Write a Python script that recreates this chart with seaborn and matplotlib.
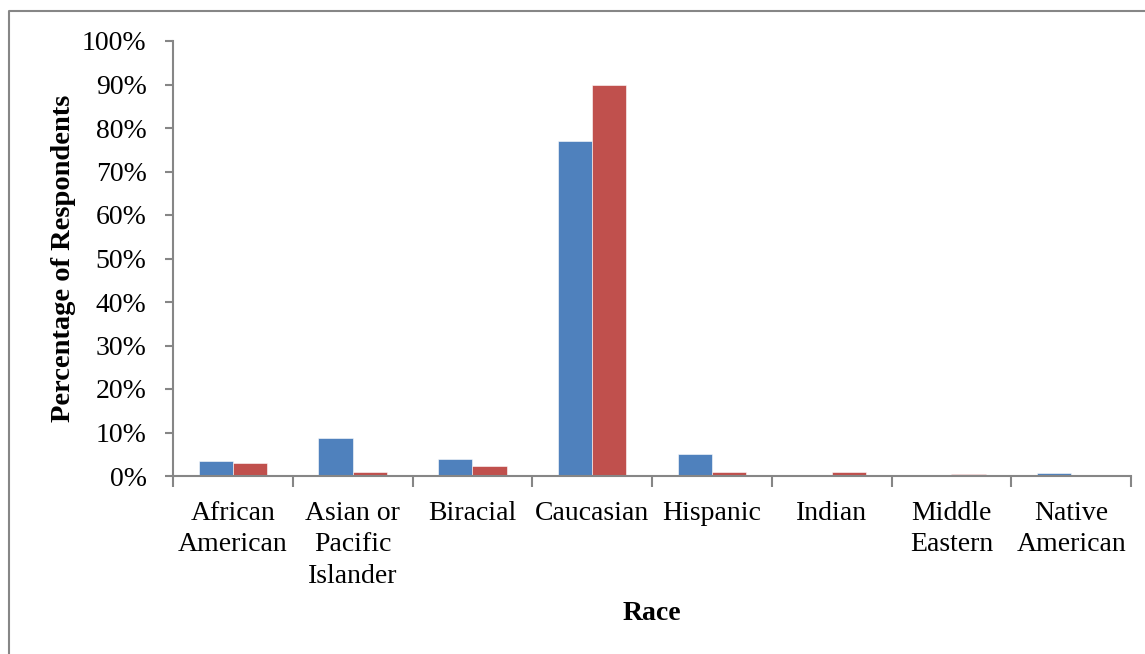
import matplotlib
matplotlib.use("Agg")
import matplotlib.pyplot as plt
from matplotlib.lines import Line2D
from matplotlib.ticker import FixedLocator, PercentFormatter
import seaborn as sns
import pandas as pd

# Race categories shown on the x axis
categories = ["African\nAmerican", "Asian or\nPacific\nIslander", "Biracial", "Caucasian",
              "Hispanic", "Indian", "Middle\nEastern", "Native\nAmerican"]
# Share of respondents in each group (fractions)
series_1 = [0.035, 0.088, 0.040, 0.769, 0.051, 0.0, 0.0, 0.008]
series_2 = [0.030, 0.010, 0.024, 0.899, 0.010, 0.010, 0.005, 0.0]
series_names = ["Series 1", "Series 2"]
colors = ["#4F81BD", "#C0504D"]

df = pd.DataFrame({
    "Race": categories * 2,
    "Share": series_1 + series_2,
    "Series": [series_names[0]] * len(categories) + [series_names[1]] * len(categories),
})

sns.set_theme(style="white")
plt.rcParams["font.family"] = ["Liberation Serif", "DejaVu Serif"]
plt.rcParams["text.color"] = "black"
plt.rcParams["axes.labelcolor"] = "black"

fig = plt.figure(figsize=(11.45, 6.54), dpi=100)
ax = fig.add_axes([173 / 1145, 1 - 476 / 654, (1131 - 173) / 1145, (476 - 41) / 654])

sns.barplot(data=df, x="Race", y="Share", hue="Series", palette=colors,
            saturation=1, width=0.57, gap=0, ax=ax, legend=False,
            edgecolor="white", linewidth=0.4)

ax.set_xlim(-0.5, len(categories) - 0.5)
ax.set_ylim(0, 1)
ax.yaxis.set_major_locator(FixedLocator([i / 10 for i in range(11)]))
ax.yaxis.set_major_formatter(PercentFormatter(1.0, decimals=0))

axis_grey = "#868686"
for side in ["top", "right"]:
    ax.spines[side].set_visible(False)
for side in ["left", "bottom"]:
    ax.spines[side].set_color(axis_grey)
    ax.spines[side].set_linewidth(1.5)

ax.tick_params(axis="y", which="major", direction="out", length=6, width=1.5,
               color=axis_grey, labelsize=20, pad=13, left=True, labelcolor="black")
# Category labels centred under the bars, tick marks on the category boundaries
ax.set_xticks(range(len(categories)))
ax.set_xticklabels(categories, linespacing=1.33)
ax.xaxis.set_minor_locator(FixedLocator([i - 0.5 for i in range(len(categories) + 1)]))
ax.tick_params(axis="x", which="major", length=0, labelsize=20, pad=18, labelcolor="black")
ax.tick_params(axis="x", which="minor", direction="out", length=8, width=1.5,
               color=axis_grey, bottom=True)
for lbl in ax.get_xticklabels():
    lbl.set_verticalalignment("top")

ax.set_xlabel("Race", fontsize=20, fontweight="bold", labelpad=9, color="black")
ax.set_ylabel("Percentage of Respondents", fontsize=20.5, fontweight="bold", labelpad=4,
              color="black")

# Outer chart frame (left and top edges)
fig.add_artist(Line2D([9 / 1145, 9 / 1145, 1.0], [0.0, 1 - 11 / 654, 1 - 11 / 654],
                      transform=fig.transFigure, color=axis_grey, linewidth=1.5))

fig.savefig("out.png", dpi=100, facecolor="white")
